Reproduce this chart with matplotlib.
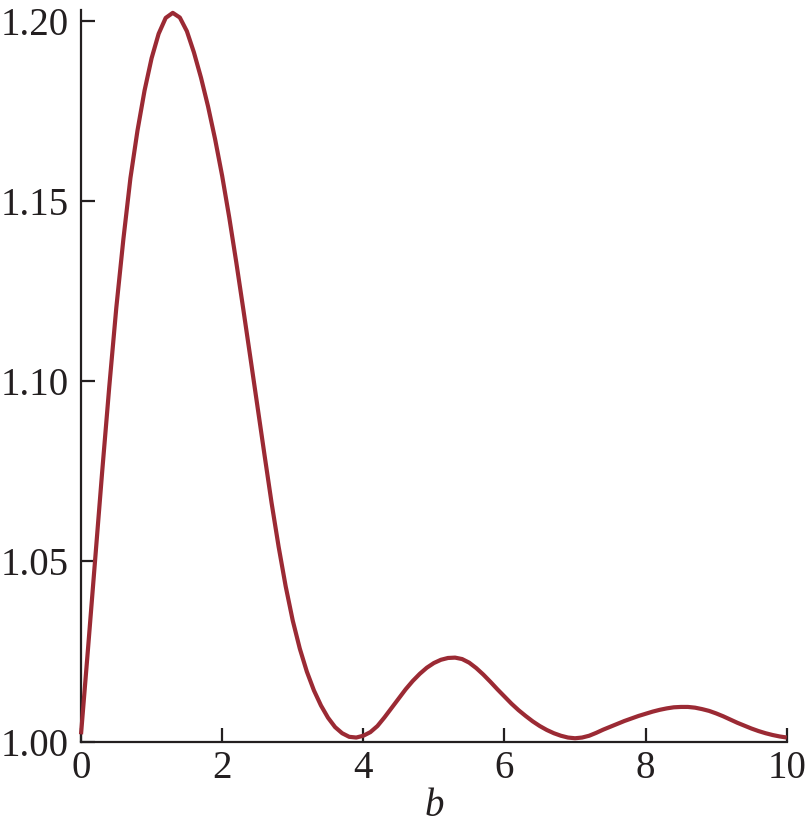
import matplotlib
matplotlib.use("Agg")
import matplotlib.pyplot as plt

# data (b from 0 to 10 in steps of 0.1)
b_values = [round(0.1 * i, 1) for i in range(101)]
f_values = [
    1.0020, 1.0260, 1.0505, 1.0750, 1.0985, 1.1205, 1.1395, 1.1565, 1.1697, 1.1808,  # 0.0-0.9
    1.1898, 1.1966, 1.2010, 1.2024, 1.2011, 1.1973, 1.1914, 1.1844, 1.1764, 1.1673,  # 1.0-1.9
    1.1571, 1.1456, 1.1331, 1.1200, 1.1066, 1.0931, 1.0796, 1.0663, 1.0541, 1.0431,  # 2.0-2.9
    1.0336, 1.0258, 1.0194, 1.0142, 1.0100, 1.0066, 1.0040, 1.0023, 1.0013, 1.0011,  # 3.0-3.9
    1.0016, 1.0026, 1.0043, 1.0067, 1.0093, 1.0119, 1.0145, 1.0168, 1.0188, 1.0205,  # 4.0-4.9
    1.0218, 1.0227, 1.0232, 1.0233, 1.0229, 1.0219, 1.0204, 1.0186, 1.0166, 1.0145,  # 5.0-5.9
    1.0125, 1.0105, 1.0087, 1.0071, 1.0056, 1.0043, 1.0032, 1.0023, 1.0016, 1.0011,  # 6.0-6.9
    1.0009, 1.0011, 1.0016, 1.0024, 1.0033, 1.0041, 1.0049, 1.0057, 1.0064, 1.0071,  # 7.0-7.9
    1.0077, 1.0083, 1.0088, 1.0092, 1.0095, 1.0096, 1.0096, 1.0094, 1.0090, 1.0085,  # 8.0-8.9
    1.0078, 1.0070, 1.0061, 1.0052, 1.0044, 1.0036, 1.0029, 1.0023, 1.0018, 1.0014,  # 9.0-9.9
    1.0011,                                                                          # 10.0
]
x_ticks = [0, 2, 4, 6, 8, 10]
y_ticks = [1.00, 1.05, 1.10, 1.15, 1.20]
y_tick_labels = ["1.00", "1.05", "1.10", "1.15", "1.20"]
x_label = "b"

plt.rcParams['font.family'] = ['Liberation Serif', 'DejaVu Serif']

ink = '#231f20'
fig = plt.figure(figsize=(8.07, 8.31), dpi=100)
ax = fig.add_axes([0.1004, 0.1077, 0.8745, 0.8803])

ax.plot(b_values, f_values, color='#9b2a34', lw=3.0, solid_capstyle='butt',
        solid_joinstyle='round', clip_on=False, zorder=3)

ax.set_xlim(0, 10)
ax.set_ylim(1.0, 1.2032)
ax.set_xticks(x_ticks)
ax.set_xticklabels([str(t) for t in x_ticks])
ax.set_yticks(y_ticks)
ax.set_yticklabels(y_tick_labels)

for s in ['top', 'right']:
    ax.spines[s].set_visible(False)
for s in ['left', 'bottom']:
    ax.spines[s].set_color(ink)
    ax.spines[s].set_linewidth(1.6)

ax.tick_params(axis='both', direction='in', length=10, width=1.6, color=ink,
               labelsize=28, labelcolor=ink)
ax.tick_params(axis='x', pad=6)
ax.tick_params(axis='y', pad=9)

ax.set_xlabel(x_label, fontsize=28, style='italic', color=ink, labelpad=1)

fig.savefig('out.png', dpi=100)
